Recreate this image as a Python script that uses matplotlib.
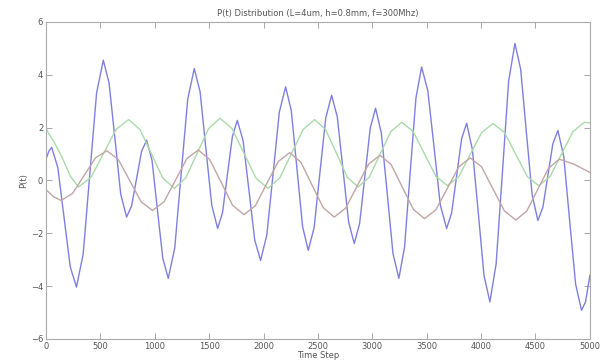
import matplotlib
matplotlib.use('Agg')
import matplotlib.pyplot as plt

# blue trace (time step, P(t))
blue_t = [0, 26, 52, 109, 166, 223, 280, 342, 403, 465, 527, 580, 634, 687, 741,
          787, 833, 879, 925, 975, 1024, 1074, 1124, 1184, 1243, 1303, 1363,
          1417, 1470, 1524, 1578, 1623, 1668, 1714, 1759, 1812, 1866, 1919, 1973,
          2030, 2088, 2145, 2203, 2255, 2307, 2359, 2411, 2465, 2518, 2572, 2626,
          2678, 2730, 2782, 2834, 2883, 2932, 2981, 3030, 3083, 3137, 3190, 3244,
          3296, 3348, 3401, 3453, 3510, 3568, 3625, 3683, 3729, 3775, 3821, 3867,
          3920, 3974, 4027, 4081, 4138, 4196, 4253, 4311, 4364, 4416, 4469, 4522,
          4568, 4614, 4660, 4706, 4760, 4814, 4869, 4923, 4960, 5000]
blue_p = [0.8, 1.1, 1.25, 0.48, -1.40, -3.27, -4.04, -2.79, 0.25, 3.30, 4.55, 3.68, 1.58, -0.52, -1.39,
          -0.97, 0.07, 1.10, 1.52, 0.76, -1.10, -2.95, -3.71, -2.55, 0.26, 3.07, 4.23,
          3.35, 1.20, -0.94, -1.82, -1.22, 0.22, 1.67, 2.27, 1.50, -0.38, -2.26, -3.03,
          -2.07, 0.25, 2.58, 3.54, 2.64, 0.45, -1.75, -2.65, -1.79, 0.28, 2.36, 3.22,
          2.40, 0.42, -1.57, -2.39, -1.64, 0.17, 1.98, 2.73, 1.79, -0.49, -2.77, -3.71,
          -2.54, 0.29, 3.12, 4.29, 3.40, 1.24, -0.93, -1.82, -1.24, 0.17, 1.58, 2.16,
          1.17, -1.22, -3.61, -4.60, -3.17, 0.29, 3.75, 5.18, 4.20, 1.83, -0.54, -1.52,
          -1.02, 0.19, 1.39, 1.89, 0.90, -1.52, -3.93, -4.92, -4.6, -3.6]

# green trace
green_t = [0, 75, 150, 225, 300, 415, 530, 645, 760, 865, 970, 1075, 1180, 1285, 1390,
           1495, 1600, 1710, 1820, 1930, 2040, 2148, 2255, 2363, 2470, 2570, 2670,
           2770, 2870, 2970, 3070, 3170, 3270, 3375, 3480, 3585, 3690, 3795, 3900,
           4005, 4110, 4215, 4320, 4425, 4530, 4635, 4740, 4845, 4950, 5000]
green_p = [1.95, 1.45, 0.85, 0.15, -0.25, 0.12, 1.03, 1.93, 2.3, 1.92, 1.0, 0.08, -0.3, 0.09, 1.03,
           1.96, 2.35, 1.96, 1.03, 0.09, -0.3, 0.08, 1.0, 1.92, 2.3, 1.93, 1.03,
           0.12, -0.25, 0.11, 0.98, 1.84, 2.2, 1.85, 1.0, 0.15, -0.2, 0.14, 0.98,
           1.81, 2.15, 1.81, 0.98, 0.14, -0.2, 0.15, 1.0, 1.85, 2.2, 2.17]

# red trace
red_t = [0, 70, 140, 245, 350, 455, 560, 665, 770, 875, 980, 1085, 1190, 1295, 1400,
         1505, 1610, 1715, 1820, 1925, 2030, 2135, 2240, 2343, 2445, 2548, 2650,
         2755, 2860, 2965, 3070, 3173, 3275, 3378, 3480, 3585, 3690, 3795, 3900,
         4005, 4110, 4215, 4320, 4420, 4520, 4620, 4720, 4860, 5000]
red_p = [-0.35, -0.62, -0.76, -0.49, 0.18, 0.85, 1.12, 0.79, -0.01, -0.81, -1.14, -0.81, 0.0, 0.82, 1.15,
         0.79, -0.07, -0.94, -1.3, -0.96, -0.12, 0.71, 1.05, 0.69, -0.17, -1.03, -1.39,
         -1.05, -0.22, 0.61, 0.95, 0.60, -0.25, -1.10, -1.45, -1.11, -0.30, 0.51, 0.85,
         0.51, -0.33, -1.16, -1.5, -1.16, -0.35, 0.46, 0.8, 0.6, 0.3]

xticks = list(range(0, 5001, 500))
yticks = [-6, -4, -2, 0, 2, 4, 6]

fig = plt.figure(figsize=(6.05, 3.64), dpi=100)
ax = fig.add_axes([0.076, 0.069, 0.899, 0.871])

ax.plot(blue_t, blue_p, color='#7f7fe0', lw=1.0)
ax.plot(green_t, green_p, color='#a9dba9', lw=1.0)
ax.plot(red_t, red_p, color='#c2a5a5', lw=1.0)

ax.set_xlim(0, 5000)
ax.set_ylim(-6, 6)
ax.set_xticks(xticks)
ax.set_yticks(yticks)
ax.tick_params(direction='in', length=4, width=0.6, colors='#999999',
               labelcolor='#555555', labelsize=6, top=True, right=True, pad=2)
for s in ax.spines.values():
    s.set_color('#aaaaaa')
    s.set_linewidth(0.8)

ax.set_title('P(t) Distribution (L=4um, h=0.8mm, f=300Mhz)', fontsize=6, color='#555555', pad=4)
ax.set_xlabel('Time Step', fontsize=6, color='#555555', labelpad=0)
ax.set_ylabel('P(t)', fontsize=6, color='#555555', labelpad=2)

fig.savefig('out.png', dpi=100)
